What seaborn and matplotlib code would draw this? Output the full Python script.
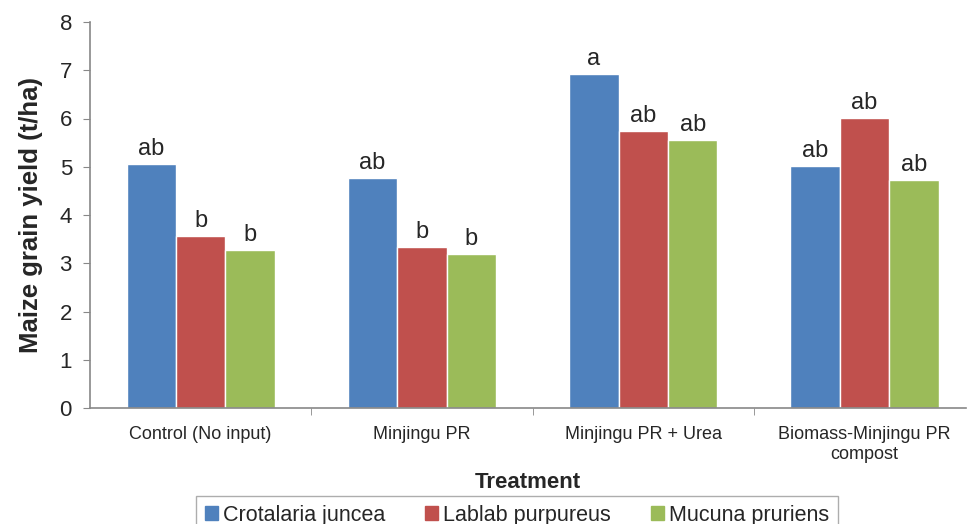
import matplotlib
matplotlib.use("Agg")
import matplotlib.pyplot as plt
import seaborn as sns
import pandas as pd

# %%
treatments = ["Control (No input)", "Minjingu PR", "Minjingu PR + Urea",
              "Biomass-Minjingu PR\ncompost"]
species = ["Crotalaria juncea", "Lablab purpureus", "Mucuna pruriens"]
crotalaria = [5.06, 4.77, 6.92, 5.02]
lablab = [3.56, 3.34, 5.74, 6.01]
mucuna = [3.27, 3.19, 5.55, 4.73]
letters_crotalaria = ["ab", "ab", "a", "ab"]
letters_lablab = ["b", "b", "ab", "ab"]
letters_mucuna = ["b", "b", "ab", "ab"]
colors = ["#4F81BD", "#C0504D", "#9BBB59"]

df = pd.DataFrame({
    "Treatment": treatments * 3,
    "Species": [s for s in species for _ in treatments],
    "Yield": crotalaria + lablab + mucuna,
})

# %%
sns.set_style("white")
plt.rcParams["font.family"] = ["Liberation Sans", "DejaVu Sans"]

fig = plt.figure(figsize=(9.67, 5.24), dpi=100)
ax = fig.add_axes([90 / 967, 116 / 524, 876 / 967, 386 / 524])

sns.barplot(data=df, x="Treatment", y="Yield", hue="Species",
            palette=colors, width=0.67, saturation=1, ax=ax, legend=False)

for cont, labs in zip(ax.containers,
                      [letters_crotalaria, letters_lablab, letters_mucuna]):
    ax.bar_label(cont, labels=labs, padding=3, fontsize=17)

ax.set_ylim(0, 8)
ax.set_xlim(-0.5, -0.5 + 876 / 221.3)
ax.set_yticks(range(0, 9))
ax.tick_params(axis="y", labelsize=16, length=5, color="#888888",
               direction="out", left=True, pad=8)
ax.tick_params(axis="x", which="major", length=0, labelsize=13, pad=13)
ax.set_xticks([0.5, 1.5, 2.5], minor=True)
ax.tick_params(axis="x", which="minor", length=5, color="#888888",
               direction="out", bottom=True)

for s in ["top", "right"]:
    ax.spines[s].set_visible(False)
for s in ["left", "bottom"]:
    ax.spines[s].set_color("#888888")
    ax.spines[s].set_linewidth(1.2)

ax.set_ylabel("Maize grain yield (t/ha)", fontsize=18.5, fontweight="bold",
              labelpad=12)
ax.set_xlabel("Treatment", fontsize=16, fontweight="bold", labelpad=7)

handles = [plt.Rectangle((0, 0), 1, 1, color=c) for c in colors]
fig.legend(handles, species, loc="upper center",
           bbox_to_anchor=(517 / 967, 1 - 496 / 524), ncol=3, fontsize=15.5,
           handlelength=0.6, handleheight=0.6, handletextpad=0.25,
           columnspacing=1.85, frameon=True, fancybox=False,
           edgecolor="#999999", borderpad=0.4, borderaxespad=0)

fig.savefig("out.png", dpi=100)
